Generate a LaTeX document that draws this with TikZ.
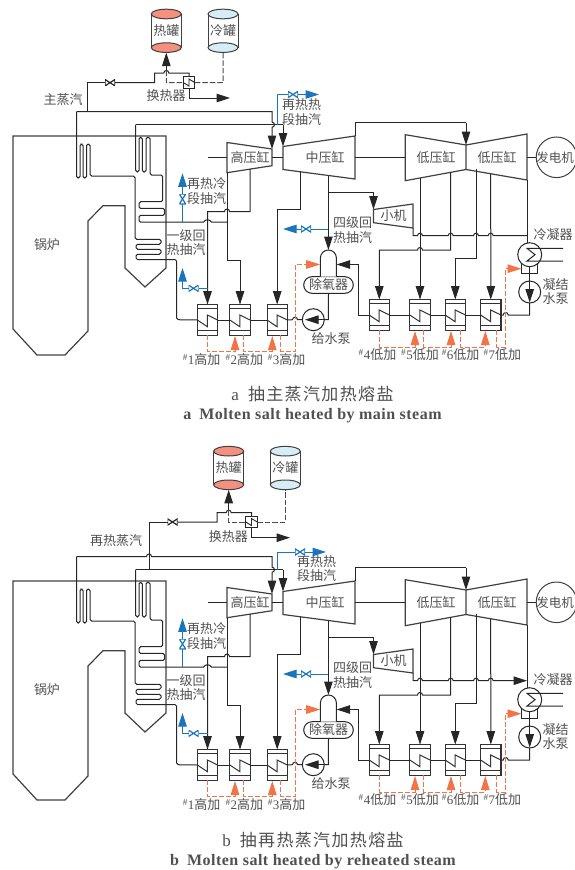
\documentclass[tikz,border=0pt]{standalone}
\usepackage{fontspec}
\setmainfont{Liberation Serif}
\newfontfamily\cjk{Noto Sans CJK SC}
\newfontfamily\cjkcap[LetterSpace=8]{Noto Sans CJK SC}
\newfontfamily\capen[LetterSpace=3]{Liberation Serif}
\usetikzlibrary{arrows.meta}
\definecolor{hotsalt}{HTML}{F4907F}
\definecolor{coldsalt}{HTML}{D6EDF6}
\definecolor{bleedblue}{HTML}{1B75BC}
\definecolor{saltred}{HTML}{F15A29}
\definecolor{txtgray}{HTML}{505050}
\newcommand{\ppb}{path picture bounding box}
\newcommand{\hopx}[2]{({#1-2.5},#2) arc (180:360:2.5)}
\newcommand{\hopl}[2]{({#1+2.5},#2) arc (0:-180:2.5)}
\newcommand{\hopd}[2]{(#1,{#2-2.5}) arc (-90:90:2.5)}
\tikzset{
    pipe/.style={draw=black!85, line width=1pt},
    wall/.style={draw=black!75, line width=1.2pt},
    flowpipe/.style={pipe, -{Triangle[length=13.5pt,width=8.5pt]}},
    bluepipe/.style={draw=bleedblue, line width=1pt},
    blueflow/.style={bluepipe, -{Triangle[length=13.5pt,width=8.5pt]}},
    salt/.style={draw=black!70, line width=1pt, dash pattern=on 5.5pt off 2pt},
    drain/.style={draw=saltred!85, line width=0.9pt, dash pattern=on 5pt off 2pt},
    drainflow/.style={drain, -{Triangle[length=14pt,width=8.5pt]}},
    lbl/.style={font=\cjk\fontsize{13}{14.8}\selectfont, text=txtgray, inner sep=0pt, align=center},
    caption/.style={font=\cjkcap\fontsize{17}{19}\selectfont, text=txtgray, inner sep=0pt},
    captionen/.style={font=\capen\bfseries\fontsize{16}{18}\selectfont, text=txtgray, inner sep=0pt},
    heater/.style={draw=black!80, line width=1.1pt, fill=white, inner sep=0pt, outer sep=0pt,
        minimum width=20.3pt, minimum height=30.8pt,
        path picture={
            \draw[line width=1pt] ([yshift=-3.5pt]\ppb.north west) -- ([yshift=-3.5pt]\ppb.north east);
            \draw[line width=1pt] ([yshift=4.7pt]\ppb.south west) -- ([yshift=4.7pt]\ppb.south east);
            \draw[line width=1pt] (\ppb.west) -- ++(10,6.7) -- ++(0,-11.7) -- (\ppb.east);
        }},
    xbox/.style={draw=black!85, line width=1pt, fill=white, inner sep=0pt, outer sep=0pt,
        minimum width=11.5pt, minimum height=11.5pt,
        path picture={
            \draw[line width=0.9pt] (\ppb.west) -- ++(5.7,3.5) -- ++(0,-7) -- (\ppb.east);
        }},
    valveh/.style={inner sep=0pt, outer sep=0pt, minimum width=10pt, minimum height=6.5pt, fill=white,
        path picture={
            \draw[line width=1.2pt, #1] (\ppb.north west) -- (\ppb.south west) -- (\ppb.north east) -- (\ppb.south east) -- cycle;
        }},
    valveh/.default=black!85,
    valvev/.style={inner sep=0pt, outer sep=0pt, minimum width=6.5pt, minimum height=10pt, fill=white,
        path picture={
            \draw[line width=1.2pt, #1] (\ppb.north west) -- (\ppb.north east) -- (\ppb.south west) -- (\ppb.south east) -- cycle;
        }},
    valvev/.default=black!85,
    pumpnode/.style={circle, draw=black!85, line width=1pt, fill=white, inner sep=0pt, outer sep=0pt, minimum size=22pt},
}
\newcommand{\tank}[5]{
    \node[lbl] (#1) at (#2,#3) {#5};
    \draw[wall, line width=1pt] ({#2-15},{#3-16.8}) -- ({#2-15},{#3+16.8});
    \draw[wall, line width=1pt] ({#2+15},{#3-16.8}) -- ({#2+15},{#3+16.8});
    \draw[wall, line width=1pt, fill=#4] (#2,{#3-16.8}) ellipse [x radius=15, y radius=4.8];
    \draw[wall, line width=1pt, fill=#4] (#2,{#3+16.8}) ellipse [x radius=15, y radius=4.8];
    \coordinate (#1b) at (#2,{#3+21.8});
}
\newcommand{\plantcore}[2]{
    \draw[wall] (13,136) -- (166,136) -- (166,268) -- (145,287) -- (125,268) -- (125,205.7) -- (103,205.7)
        -- (88,221) -- (88,331) -- (65,355) -- (37,355) -- (13,329) -- cycle;
    \node[lbl] (boiler) at (47,245) {锅炉};
    \coordinate (hpa) at (250,169);
    \coordinate (hpb) at (227,172.7);
    \coordinate (ipa) at (300.7,172);
    \coordinate (ipb) at (328.4,175.5);
    \coordinate (ipc) at (355,136);
    \coordinate (lpa) at (420,178);
    \coordinate (lpb) at (450.7,172);
    \coordinate (lpc) at (476,168.9);
    \coordinate (lpd) at (490.7,173.8);
    \coordinate (lpin) at (466,145);
    \coordinate (hpin) at (272,149);
    \coordinate (ipin) at (283,146.5);
    \coordinate (smallin) at (373.5,209.5);
    \coordinate (smallout) at (413,228);
    \coordinate (domet) at (328.4,250);
    \draw[wall] (227,142.5) -- (272,149) -- (272,165.7) -- (227,172.7) -- cycle;
    \draw[wall] (283,146.5) -- (355,136) -- (355,179) -- (283,169.5) -- cycle;
    \draw[wall] (405.3,134.7) -- (466,145) -- (466,169.5) -- (405.3,180.7) -- cycle;
    \draw[wall] (466,145) -- (527,134) -- (527,180) -- (466,169.5);
    \draw[wall] (373.5,209.5) -- (413,204) -- (413,228) -- (373.5,222.7) -- cycle;
    \node[lbl] (hp) at (250,157) {高压缸};
    \node[lbl] (ip) at (325,157) {中压缸};
    \node[lbl] (lp1) at (436,157) {低压缸};
    \node[lbl] (lp2) at (497,157) {低压缸};
    \node[lbl] (small) at (393.5,216) {小机};
    \node[circle, draw=black!75, line width=1pt, minimum size=40.6pt, inner sep=0pt] (gen) at (556.5,157.3) {};
    \node[lbl, font=\cjk\fontsize{12.5}{14}\selectfont] (lgen) at (555,157.3) {发电机};
    \draw[pipe] (208,157) -- (227,157);
    \draw[pipe] (272,157) -- (283,157);
    \draw[pipe] (355,157.3) -- (405.3,157.3);
    \draw[pipe] (527,157.3) -- (gen.west);
    \node[heater] (h1) at (207.5,320) {};
    \node[heater] (h2) at (240,320) {};
    \node[heater] (h3) at (277.2,320) {};
    \node[heater] (h4) at (379.3,315) {};
    \node[heater] (h5) at (420,315) {};
    \node[heater] (h6) at (455.3,315) {};
    \node[heater] (h7) at (490.8,315) {};
    \node[pumpnode] (fp) at (313.3,319.7) {};
    \node[pumpnode] (cp) at (529.7,292) {};
    \draw[pipe, fill=white] (521.7,260) rectangle (537.3,273.3);
    \node[pumpnode, minimum size=24pt] (cond) at (529.7,254.7) {};
    \node[draw=black!85, line width=1pt, fill=white, rounded corners=8.3pt, minimum width=49.6pt, minimum height=16.6pt,
        inner sep=0pt, font=\cjk\fontsize{13}{14.5}\selectfont, text=txtgray] (dea) at (328.5,285) {除氧器};
    \draw[pipe, fill=white] (320.4,276.7) -- (320.4,258) arc (180:360:8) -- (336.4,276.7);
    % coils
    \draw[pipe, rounded corners=1.6pt] (76.5,111.5) -- (76.5,178) -- (80,178) -- (80,144) -- (83,144) -- (83,178)
        -- (86.5,178) -- (86.5,144) -- (90,144) -- (90,176) -- (135,176) -- (135,239.3) -- (161,239.3) -- (161,244.3)
        -- (136,244.3) -- (136,249.3) -- (161,249.3) -- (161,254.3) -- (136,254.3) -- (136,259.6) -- (176.7,259.6)
        -- (176.7,319.7) -- (h1.west);
    \draw[pipe, rounded corners=1.6pt] (135.7,124.7) -- (135.7,172) -- (139,172) -- (139,137.3) -- (142.3,137.3)
        -- (142.3,172) -- (146,172) -- (146,137.3) -- (150,137.3) -- (150,175) -- (162.7,175) -- (162.7,201.7)
        -- (139,201.7) -- (139,208.4) -- (164.7,208.4) -- (164.7,215.3) -- (139,215.3) -- (139,222.2)
        -- \hopx{207.5}{222.2} -- (227,222.2);
    % steam
    \draw[flowpipe] (76.5,111.5) #2 -- (272,111.5) -- \hopd{272}{124.7} -- (hpin);
    \draw[pipe] (135.7,124.7) -- (283,124.7);
    \draw[flowpipe] (283,124.7) -- (ipin);
    \draw[flowpipe] (hpa) -- (250,211.5) -- \hopl{227}{211.5} -- (207.5,211.5) -- (h1.north);
    \draw[flowpipe] (hpb) -- (227,260) -- (240,260) -- (h2.north);
    \draw[flowpipe] (ipa) -- (300.7,209.3) -- (277.2,209.3) -- (h3.north);
    \draw[flowpipe] (ipb) -- (domet);
    \draw[flowpipe] (328.4,192.7) -- (373.5,192.7) -- (smallin);
    \draw[pipe] (ipc) -- (355,122.7) -- (466,122.7);
    \draw[flowpipe] (466,122.7) -- (lpin);
    \draw[#1] (smallout) -- (413,235.7) -- \hopx{420}{235.7} -- \hopx{450.7}{235.7} -- \hopx{476}{235.7}
        -- \hopx{490.7}{235.7} -- (527,235.7);
    \draw[pipe] (527,180) -- (527,243);
    \draw[flowpipe] (lpa) -- (h5.north);
    \draw[flowpipe] (lpb) -- (450.7,250) -- \hopl{420}{250} -- (379.3,250) -- (h4.north);
    \draw[flowpipe] (lpc) -- (476,258.3) -- (455.3,258.3) -- (h6.north);
    \draw[flowpipe] (lpd) -- (h7.north);
    % water
    \draw[pipe] (h1.east) -- (h2.west);
    \draw[pipe] (h2.east) -- (h3.west);
    \draw[pipe] (h3.east) -- \hopx{295}{319.7} -- (fp.west);
    \draw[pipe] (fp.east) -- (328.4,319.7) -- (dea.south);
    \draw[flowpipe] (h4.west) -- (358.3,315) -- (358.3,264.5) -- (336.6,264.5);
    \draw[pipe] (h4.east) -- (h5.west);
    \draw[pipe] (h5.east) -- (h6.west);
    \draw[pipe] (h6.east) -- (h7.west);
    \draw[pipe] (h7.east) -- \hopx{505.7}{315} -- (529.7,315) -- (cp.south);
    \draw[pipe] (cond.south) -- (cp.north);
    \draw[flowpipe] (fp.east) -- (305,319.7);
    \draw[flowpipe] (cp.north) -- (529.7,302.5);
    \draw[pipe] (563,248.3) -- (527,248.3) -- (535,254.7) -- (527,261) -- (563,261);
    % bleed
    \node[valvev={bleedblue}] (bv1) at (182.5,199) {};
    \draw[bluepipe] (182.5,222.2) -- (bv1.south);
    \draw[blueflow] (bv1.north) -- (182.5,173.3);
    \node[valveh={bleedblue}] (bv2) at (193.5,288.3) {};
    \draw[bluepipe] (207.5,288.3) -- (bv2.east);
    \draw[blueflow] (bv2.west) -- (182.5,288.3) -- (182.5,268);
    \node[valveh={bleedblue}] (bv3) at (306,229) {};
    \draw[bluepipe] (328.4,229) -- (bv3.east);
    \draw[blueflow] (bv3.west) -- (283,229);
    % drains
    \draw[drainflow] (207.5,335.4) -- (207.5,351.5) -- (235,351.5) -- (235,336);
    \draw[drainflow] (243.3,335.4) -- (243.3,351.5) -- (272.3,351.5) -- (272.3,336);
    \draw[drainflow] (280.7,335.4) -- (280.7,351.5) -- (295,351.5) -- (295,264.5) -- (320.2,264.5);
    \draw[drainflow] (379.3,330.4) -- (379.3,347) -- (415,347) -- (415,331);
    \draw[drainflow] (423.7,330.4) -- (423.7,347) -- (451,347) -- (451,331);
    \draw[drainflow] (460.7,330.4) -- (460.7,347) -- (485.3,347) -- (485.3,331);
    \draw[drainflow] (496.3,330.4) -- (496.3,347) -- (505.7,347) -- (505.7,268.7) -- (521.5,268.7);
    % labels
    \node[lbl] (lcold) at (206.7,191) {再热冷\\段抽汽};
    \node[lbl] (lone) at (186,242.5) {一级回\\热抽汽};
    \node[lbl] (lfour) at (352.7,230) {四级回\\热抽汽};
    \node[lbl] (lcond) at (553,235) {冷凝器};
    \node[lbl] (lcp) at (555.7,291.5) {凝结\\水泵};
    \node[lbl] (lfp) at (331,339) {给水泵};
    \node[lbl] (n1) at (201.7,360) {\rmfamily\textsuperscript{\#}1\cjk 高加};
    \node[lbl] (n2) at (244.3,360) {\rmfamily\textsuperscript{\#}2\cjk 高加};
    \node[lbl] (n3) at (286.7,360) {\rmfamily\textsuperscript{\#}3\cjk 高加};
    \node[lbl] (n4) at (377.5,355) {\rmfamily\textsuperscript{\#}4\cjk 低加};
    \node[lbl] (n5) at (420,355) {\rmfamily\textsuperscript{\#}5\cjk 低加};
    \node[lbl] (n6) at (460.7,355) {\rmfamily\textsuperscript{\#}6\cjk 低加};
    \node[lbl] (n7) at (502.3,355) {\rmfamily\textsuperscript{\#}7\cjk 低加};
}
\begin{document}
\begin{tikzpicture}[x=1pt, y=-1pt]
    \useasboundingbox (0,0) rectangle (574,870);
    \plantcore{pipe}{}
    \tank{hot}{166.3}{30.8}{hotsalt}{热罐}
    \tank{cold}{223}{30.8}{coldsalt}{冷罐}
    \node[valveh] (msv) at (110,82.7) {};
    \node[xbox] (hx) at (189,82.5) {};
    \coordinate (hxout) at (230,98);
    \draw[pipe] (87,111.5) -- (87,82.7) -- (msv.west);
    \draw[pipe] (msv.east) -- (154.7,82.7) -- (154.7,73) -- \hopx{166.3}{73} -- (189,73) -- (hx.north);
    \draw[flowpipe] (166.3,70.5) -- (hotb);
    \draw[salt] (166.3,70.5) -- (166.3,82.7) -- (hx.west);
    \draw[salt] (hx.east) -- (223,82.7) -- (coldb);
    \draw[flowpipe] (hx.south) -- (189,98) -- (hxout);
    \draw[bluepipe] (277,124.7) -- (277,94.5) -- (288,94.5);
    \node[valveh={bleedblue}] (bv4) at (293,94.5) {};
    \coordinate (bv4end) at (319,94.5);
    \draw[blueflow] (bv4.east) -- (bv4end);
    \node[lbl] (lsteam) at (63,100) {主蒸汽};
    \node[lbl] (lhx) at (166,96) {换热器};
    \node[lbl] (lhot) at (301.7,112) {再热热\\段抽汽};
    \node[caption] (capa) at (312.5,394) {\rmfamily a\hspace{9pt}\cjkcap 抽主蒸汽加热熔盐};
    \node[captionen] (capb) at (312.5,416) {a\hspace{8pt}Molten salt heated by main steam};
    \begin{scope}[shift={(0,445)}]
        \plantcore{flowpipe}{-- \hopx{149}{111.5}}
    \end{scope}
    \tank{hot}{228.7}{468}{hotsalt}{热罐}
    \tank{cold}{285.3}{468}{coldsalt}{冷罐}
    \node[valveh] (rsv) at (172.5,522) {};
    \node[xbox] (hx) at (251.5,522) {};
    \coordinate (hxout) at (290,537.7);
    \draw[pipe] (149,569.7) -- (149,522) -- (rsv.west);
    \draw[pipe] (rsv.east) -- (217,522) -- (217,512.7) -- \hopx{228.7}{512.7} -- (251.5,512.7) -- (hx.north);
    \draw[flowpipe] (228.7,510.2) -- (hotb);
    \draw[salt] (228.7,510.2) -- (228.7,522) -- (hx.west);
    \draw[salt] (hx.east) -- (285.3,522) -- (coldb);
    \draw[flowpipe] (hx.south) -- (251.5,537.7) -- (hxout);
    \draw[bluepipe] (277,569.7) -- (277,552) -- (295,552);
    \node[valveh={bleedblue}] (bv4) at (300,552) {};
    \coordinate (bv4end) at (326,552);
    \draw[blueflow] (bv4.east) -- (bv4end);
    \node[lbl] (lsteam) at (116,541) {再热蒸汽};
    \node[lbl] (lhx) at (228.3,536.7) {换热器};
    \node[lbl] (lhot) at (316.7,568.5) {再热热\\段抽汽};
    \node[caption] (capa) at (313,840) {\rmfamily b\hspace{9pt}\cjkcap 抽再热蒸汽加热熔盐};
    \node[captionen] (capb) at (313,862) {b\hspace{8pt}Molten salt heated by reheated steam};
\end{tikzpicture}
\end{document}
